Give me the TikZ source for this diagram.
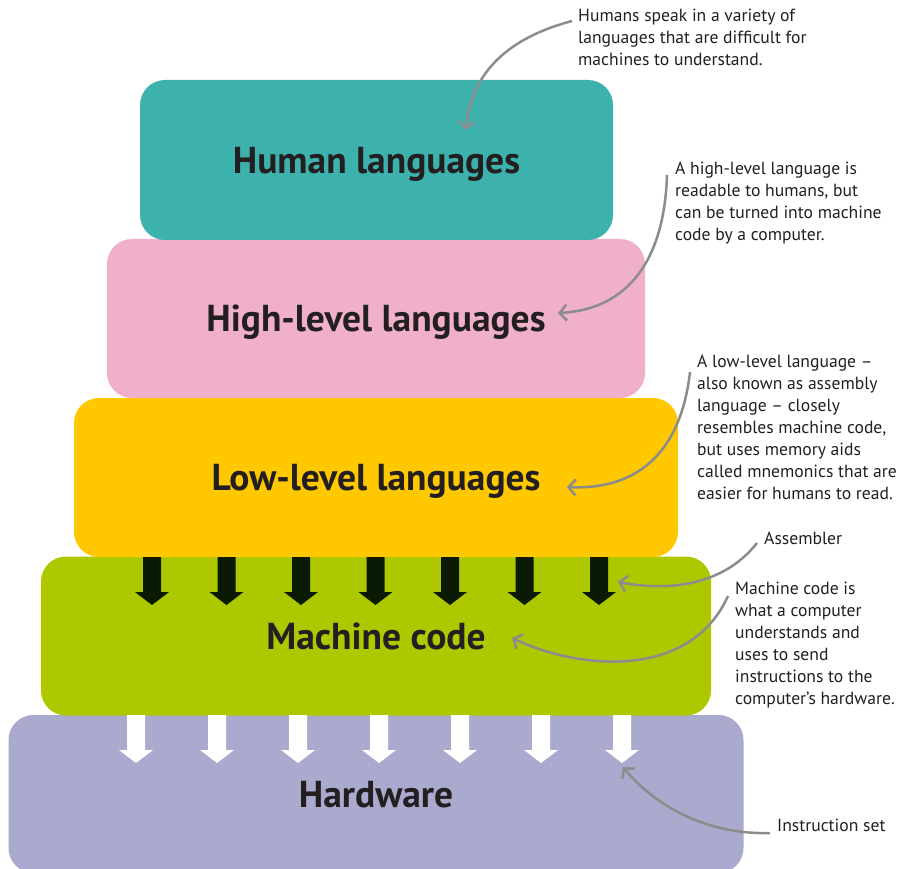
\documentclass[tikz,border=0pt]{standalone}
\usepackage{fontspec}
\setmainfont{PT Sans}
\usepackage{tikz}
\usetikzlibrary{calc}
\usetikzlibrary{arrows.meta}
\definecolor{tealbox}{RGB}{61,178,172}
\definecolor{pinkbox}{RGB}{240,176,203}
\definecolor{yellowbox}{RGB}{255,200,0}
\definecolor{greenbox}{RGB}{174,200,0}
\definecolor{lavenderbox}{RGB}{170,170,207}
\definecolor{arrowblack}{RGB}{10,26,4}
\definecolor{textgray}{RGB}{35,31,32}
\definecolor{linegray}{RGB}{140,140,140}
\tikzset{
    layerbox/.style={
        rectangle,
        rounded corners=25pt,
        inner sep=0pt,
        text depth=0pt,
        text=textgray,
        font=\fontsize{37.5}{40}\selectfont\bfseries
    },
    % 注释文字和灰色弯箭头
    notetext/.style={
        anchor=north west,
        inner sep=0pt,
        align=left,
        text=textgray,
        font=\fontsize{17.6}{22}\selectfont
    },
    grayarrow/.style={
        line width=2.5pt,
        linegray,
        -{Straight Barb[length=7pt, width=16pt]}
    },
    downarrow/.pic={
        \path[pic actions] (-9,0) -- (-9,35) -- (-17,35) -- (0,48)
        -- (17,35) -- (9,35) -- (9,0) -- cycle;
    }
}

\begin{document}
\begin{tikzpicture}[x=1pt,y=-1pt]
    \useasboundingbox (0,0) rectangle (897,869);
    \node[layerbox,fill=lavenderbox,minimum width=735pt,minimum height=158pt]
        (hardware) at (376,794) {Hardware};
    \node[layerbox,fill=greenbox,minimum width=670pt,minimum height=159pt]
        (machine) at (376,636) {Machine code};
    \node[layerbox,fill=yellowbox,minimum width=604pt,minimum height=159pt]
        (lowlevel) at (376,477.5) {Low-level languages};
    \node[layerbox,fill=pinkbox,minimum width=538pt,minimum height=159pt]
        (highlevel) at (376,318.5) {High-level languages};
    \node[layerbox,fill=tealbox,minimum width=473pt,minimum height=160pt]
        (human) at (376.5,160) {Human languages};

    \pic[fill=arrowblack] at (152,557) {downarrow};
    \pic[fill=arrowblack] at (226.5,557) {downarrow};
    \pic[fill=arrowblack] at (301,557) {downarrow};
    \pic[fill=arrowblack] at (375.5,557) {downarrow};
    \pic[fill=arrowblack] at (450,557) {downarrow};
    \pic[fill=arrowblack] at (524.5,557) {downarrow};
    \pic[fill=arrowblack] at (599,557) {downarrow};
    \pic[fill=white] at (136,715) {downarrow};
    \pic[fill=white] at (217,715) {downarrow};
    \pic[fill=white] at (298,715) {downarrow};
    \pic[fill=white] at (379,715) {downarrow};
    \pic[fill=white] at (460,715) {downarrow};
    \pic[fill=white] at (541,715) {downarrow};
    \pic[fill=white] at (622,715) {downarrow};

    \node[notetext] (humannote) at (578,9)
        {Humans speak in a variety of\\languages that are difficult for\\machines to understand.};
    \node[notetext] (highnote) at (675,162)
        {A high-level language is\\readable to humans, but\\can be turned into machine\\code by a computer.};
    \node[notetext] (lownote) at (697,355)
        {A low-level language –\\also known as assembly\\language – closely\\resembles machine code,\\but uses memory aids\\called mnemonics that are\\easier for humans to read.};
    \node[notetext] (asmnote) at (764,532) {Assembler};
    \node[notetext] (machinenote) at (735,582)
        {Machine code is\\what a computer\\understands and\\uses to send\\instructions to the\\computer’s hardware.};
    \node[notetext] (instrnote) at (777,819) {Instruction set};

    \path
    (572,21) coordinate (s1) (466,130) coordinate (t1)
    (667,175) coordinate (s2) (558,313) coordinate (t2)
    (690,372) coordinate (s3) (567,487) coordinate (t3)
    (757,543) coordinate (s4) (618,582) coordinate (t4)
    (728,596) coordinate (s5) (512,638) coordinate (t5)
    (770,833) coordinate (s6) (623,767) coordinate (t6);
    \draw[grayarrow] (s1) .. controls (500,40) and (470,80) .. (t1);
    \draw[grayarrow] (s2) .. controls (664,270) and (620,310) .. (t2);
    \draw[grayarrow] (s3) .. controls (680,460) and (630,490) .. (t3);
    \draw[grayarrow] (s4) .. controls (720,590) and (660,590) .. (t4);
    \draw[grayarrow] (s5) .. controls (690,680) and (580,670) .. (t5);
    \draw[grayarrow] (s6) .. controls (700,835) and (650,800) .. (t6);
\end{tikzpicture}
\end{document}
